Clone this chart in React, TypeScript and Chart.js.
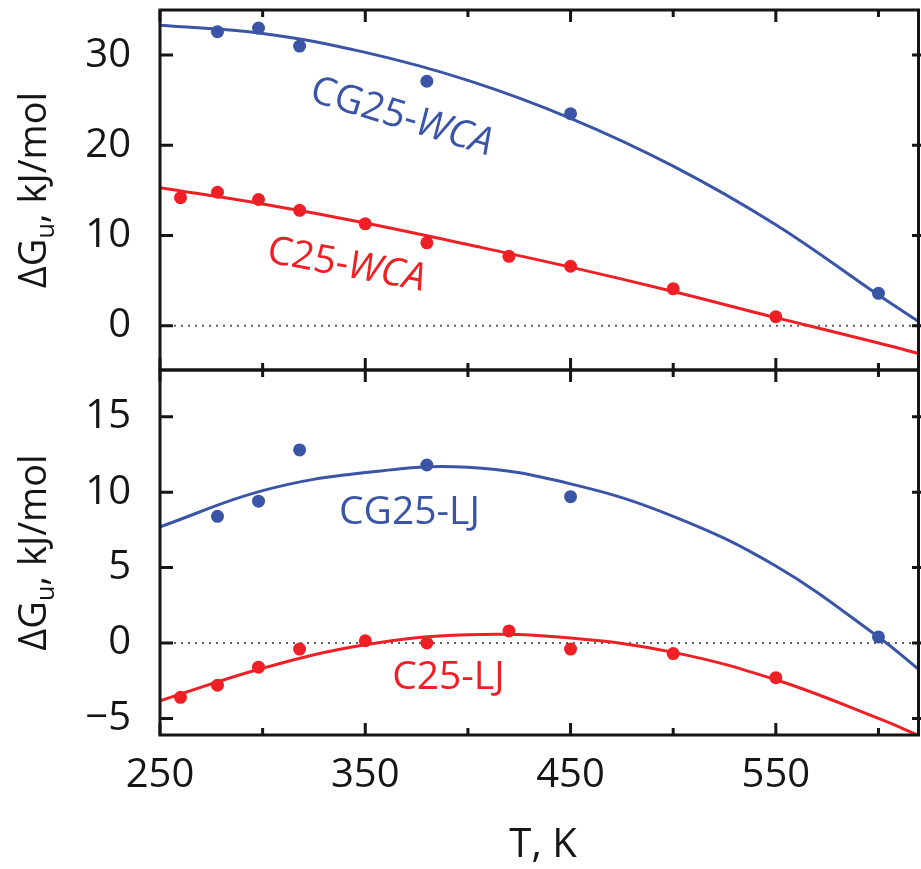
import React, { useEffect, useRef } from 'react';
import { Chart, registerables } from 'chart.js';

Chart.register(...registerables);

const BLUE = '#3b55a6';
const RED = '#ee2026';
const INK = '#151515';
const FONT = '"Open Sans", "Noto Sans", sans-serif';

// x axis (T, K)
const xMajorTicks = [250, 350, 450, 550];
const xMinorTicks = [300, 400, 500, 600];
const xMin = 250;
const xMax = 619.5;

// top panel (WCA)
const topYTicks = [0, 10, 20, 30];
const tBlueWCA = [278, 298, 318, 380, 450, 600];
const gBlueWCA = [32.6, 33.0, 31.0, 27.1, 23.5, 3.6];
const tRedWCA = [260, 278, 298, 318, 350, 380, 420, 450, 500, 550];
const gRedWCA = [14.2, 14.8, 14.0, 12.8, 11.3, 9.2, 7.7, 6.6, 4.1, 1.0];
const tFit = [250, 300, 350, 400, 450, 500, 550, 600, 620];
const fitBlueWCA = [33.3, 32.4, 30.3, 27.2, 23.0, 17.7, 11.2, 3.4, 0.4];
const fitRedWCA = [15.3, 13.5, 11.4, 9.0, 6.5, 3.8, 0.9, -1.9, -3.1];

// bottom panel (LJ)
const botYTicks = [-5, 0, 5, 10, 15];
const tBlueLJ = [278, 298, 318, 380, 450, 600];
const gBlueLJ = [8.4, 9.4, 12.8, 11.8, 9.7, 0.4];
const tRedLJ = [260, 278, 298, 318, 350, 380, 420, 450, 500, 550];
const gRedLJ = [-3.6, -2.8, -1.6, -0.4, 0.15, 0.0, 0.8, -0.4, -0.7, -2.3];
const fitBlueLJ = [7.7, 10.1, 11.3, 11.65, 10.55, 8.4, 5.1, 0.4, -1.8];
const fitRedLJ = [-3.83, -1.67, -0.11, 0.55, 0.33, -0.62, -2.44, -5.0, -6.15];

const zeroLineT = [250, 620];
const zeroLineG = [0, 0];

type Label = { parts: { text: string; italic: boolean }[]; t: number; g: number; angle: number; color: string };

const topLabels: Label[] = [
  { parts: [{ text: 'CG25-', italic: false }, { text: 'WCA', italic: true }], t: 368, g: 23.4, angle: 17, color: BLUE },
  { parts: [{ text: 'C25-', italic: false }, { text: 'WCA', italic: true }], t: 341, g: 7.0, angle: 10.5, color: RED },
];
const botLabels: Label[] = [
  { parts: [{ text: 'CG25-LJ', italic: false }], t: 371.5, g: 8.8, angle: 0, color: BLUE },
  { parts: [{ text: 'C25-LJ', italic: false }], t: 390.5, g: -2.1, angle: 0, color: RED },
];

const pts = (xs: number[], ys: number[]) => xs.map((x, i) => ({ x, y: ys[i] }));

function makeDatasets(bt: number[], bg: number[], rt: number[], rg: number[], fb: number[], fr: number[]) {
  return [
    {
      data: pts(zeroLineT, zeroLineG), showLine: true, pointRadius: 0, borderColor: '#5f5f5f',
      borderWidth: 2, borderDash: [2, 5], order: 5,
    },
    { data: pts(tFit, fb), showLine: true, pointRadius: 0, borderColor: BLUE, borderWidth: 3, tension: 0.4, order: 4 },
    { data: pts(tFit, fr), showLine: true, pointRadius: 0, borderColor: RED, borderWidth: 3, tension: 0.4, order: 3 },
    { data: pts(bt, bg), showLine: false, pointRadius: 6.5, backgroundColor: BLUE, borderWidth: 0, order: 2 },
    { data: pts(rt, rg), showLine: false, pointRadius: 6.5, backgroundColor: RED, borderWidth: 0, order: 1 },
  ];
}

function makePlugin(yTicks: number[], labels: Label[], xTitle: boolean) {
  return {
    id: 'panelDecor',
    afterDatasetsDraw(chart: any) {
      const { ctx, chartArea, scales } = chart;
      const { left, right, top, bottom } = chartArea;
      const xs = scales.x;
      const ys = scales.y;
      ctx.save();
      // labels
      labels.forEach((lb) => {
        const cx = xs.getPixelForValue(lb.t);
        const cy = ys.getPixelForValue(lb.g);
        const size = 39;
        let total = 0;
        const widths = lb.parts.map((p) => {
          ctx.font = `${p.italic ? 'italic ' : ''}${size}px ${FONT}`;
          const w = ctx.measureText(p.text).width;
          total += w;
          return w;
        });
        ctx.save();
        ctx.translate(cx, cy);
        ctx.rotate((lb.angle * Math.PI) / 180);
        ctx.fillStyle = lb.color;
        ctx.textBaseline = 'alphabetic';
        ctx.textAlign = 'left';
        let x = -total / 2;
        lb.parts.forEach((p, i) => {
          ctx.font = `${p.italic ? 'italic ' : ''}${size}px ${FONT}`;
          ctx.fillText(p.text, x, size * 0.36);
          x += widths[i];
        });
        ctx.restore();
      });
      // frame
      ctx.strokeStyle = INK;
      ctx.lineWidth = 3;
      ctx.lineCap = 'butt';
      ctx.strokeRect(left, top, right - left, bottom - top);
      ctx.beginPath();
      xMajorTicks.forEach((v) => {
        const p = xs.getPixelForValue(v);
        ctx.moveTo(p, bottom); ctx.lineTo(p, bottom - 12);
        ctx.moveTo(p, top); ctx.lineTo(p, top + 12);
      });
      xMinorTicks.forEach((v) => {
        const p = xs.getPixelForValue(v);
        ctx.moveTo(p, bottom); ctx.lineTo(p, bottom - 7);
        ctx.moveTo(p, top); ctx.lineTo(p, top + 7);
      });
      yTicks.forEach((v) => {
        const p = ys.getPixelForValue(v);
        ctx.moveTo(left, p); ctx.lineTo(left + 13, p);
        ctx.moveTo(921, p); ctx.lineTo(921 - 9, p);
      });
      ctx.stroke();
      // y title with subscript
      const cyT = (top + bottom) / 2;
      ctx.save();
      ctx.translate(46, cyT);
      ctx.rotate(-Math.PI / 2);
      ctx.fillStyle = INK;
      ctx.textBaseline = 'alphabetic';
      ctx.textAlign = 'left';
      const big = `38px ${FONT}`;
      const small = `25px ${FONT}`;
      ctx.font = big;
      const w1 = ctx.measureText('\u0394G').width;
      const w3 = ctx.measureText(', kJ/mol').width;
      ctx.font = small;
      const w2 = ctx.measureText('u').width;
      const tot = w1 + w2 + w3;
      let x0 = -tot / 2;
      ctx.font = big;
      ctx.fillText('\u0394G', x0, 0);
      x0 += w1;
      ctx.font = small;
      ctx.fillText('u', x0, 8);
      x0 += w2;
      ctx.font = big;
      ctx.fillText(', kJ/mol', x0, 0);
      ctx.restore();
      if (xTitle) {
        ctx.fillStyle = INK;
        ctx.font = `40px ${FONT}`;
        ctx.textAlign = 'center';
        ctx.textBaseline = 'alphabetic';
        ctx.fillText('T, K', 543, bottom + 122);
      }
      ctx.restore();
    },
  };
}

function baseOptions(yMin: number, yMax: number, yTicks: number[], showX: boolean): any {
  return {
    responsive: false,
    animation: false,
    events: [],
    layout: { padding: { top: 10, bottom: showX ? 0 : 10, left: 0, right: 0 } },
    plugins: { legend: { display: false }, tooltip: { enabled: false } },
    scales: {
      x: {
        type: 'linear',
        min: xMin,
        max: xMax,
        display: showX,
        afterBuildTicks: (s: any) => { s.ticks = xMajorTicks.map((v) => ({ value: v })); },
        afterFit: (s: any) => {
          s.height = showX ? 134 : 0;
          s.paddingLeft = 0; s.paddingRight = 0; s.paddingTop = 0; s.paddingBottom = 0;
        },
        grid: { display: false, drawTicks: false },
        border: { display: false },
        ticks: { padding: 17, color: INK, font: { family: FONT, size: 40 }, maxRotation: 0, autoSkip: false },
      },
      y: {
        type: 'linear',
        min: yMin,
        max: yMax,
        afterBuildTicks: (s: any) => { s.ticks = yTicks.map((v) => ({ value: v })); },
        afterFit: (s: any) => {
          s.width = 160;
          s.paddingLeft = 0; s.paddingRight = 0; s.paddingTop = 0; s.paddingBottom = 0;
        },
        grid: { display: false, drawTicks: false },
        border: { display: false },
        ticks: {
          padding: 29, color: INK, font: { family: FONT, size: 40 },
          callback: (v: number) => (v < 0 ? '\u2212' + Math.abs(v) : String(v)),
        },
      },
    },
  };
}

const CANVAS_W = 925;

function Panel({ top, height, kind }: { top: number; height: number; kind: 'wca' | 'lj' }) {
  const ref = useRef<HTMLCanvasElement>(null);
  useEffect(() => {
    if (!ref.current) return;
    const isTop = kind === 'wca';
    const datasets = isTop
      ? makeDatasets(tBlueWCA, gBlueWCA, tRedWCA, gRedWCA, fitBlueWCA, fitRedWCA)
      : makeDatasets(tBlueLJ, gBlueLJ, tRedLJ, gRedLJ, fitBlueLJ, fitRedLJ);
    const yTicks = isTop ? topYTicks : botYTicks;
    const chart = new Chart(ref.current, {
      type: 'scatter',
      data: { datasets: datasets as any },
      options: isTop ? baseOptions(-4.9, 35, yTicks, false) : baseOptions(-6.1, 18.1, yTicks, true),
      plugins: [makePlugin(yTicks, isTop ? topLabels : botLabels, !isTop)],
    });
    return () => chart.destroy();
  }, [kind]);
  return (
    <canvas
      ref={ref}
      width={CANVAS_W}
      height={height}
      style={{ position: 'absolute', left: 0, top, width: CANVAS_W, height }}
    />
  );
}

export default function App() {
  return (
    <div style={{ position: 'absolute', left: 0, top: 0, width: 921, height: 869, background: '#fff', overflow: 'hidden' }}>
      <Panel top={0} height={380} kind="wca" />
      <Panel top={360} height={509} kind="lj" />
    </div>
  );
}
